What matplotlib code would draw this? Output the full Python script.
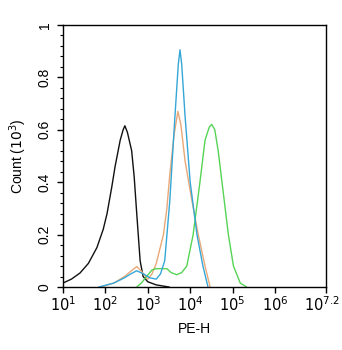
import matplotlib
matplotlib.use("Agg")
import matplotlib.pyplot as plt
import matplotlib.transforms as mtransforms
import numpy as np
from matplotlib.ticker import FixedLocator, MultipleLocator, LogLocator, NullFormatter

plt.rcParams['font.family'] = ['Liberation Sans', 'DejaVu Sans']

# exponents (log10 of PE-H) and counts (x10^3)
black_exp = [1.0, 1.2, 1.4, 1.6, 1.8, 1.95, 2.04, 2.15, 2.23, 2.35, 2.42, 2.46, 2.52, 2.62, 2.68, 2.74, 2.82, 2.89, 3.0, 3.2, 3.5]
black_cnt = [0.015, 0.03, 0.053, 0.09, 0.15, 0.22, 0.28, 0.38, 0.46, 0.56, 0.6, 0.615, 0.59, 0.52, 0.42, 0.28, 0.10, 0.04, 0.02, 0.008, 0.0]

orange_exp = [1.9, 2.2, 2.45, 2.6, 2.74, 2.85, 3.0, 3.1, 3.2, 3.37, 3.45, 3.52, 3.62, 3.71, 3.78, 3.88, 4.04, 4.19, 4.35, 4.47]
orange_cnt = [0.0, 0.015, 0.04, 0.06, 0.078, 0.06, 0.03, 0.05, 0.09, 0.2, 0.3, 0.43, 0.58, 0.67, 0.62, 0.48, 0.33, 0.2, 0.08, 0.0]

blue_exp = [1.85, 2.2, 2.45, 2.6, 2.74, 2.9, 3.05, 3.2, 3.3, 3.4, 3.52, 3.64, 3.72, 3.76, 3.8, 3.88, 4.0, 4.16, 4.3, 4.42]
blue_cnt = [0.0, 0.015, 0.035, 0.05, 0.062, 0.05, 0.035, 0.03, 0.05, 0.1, 0.33, 0.65, 0.85, 0.905, 0.85, 0.65, 0.4, 0.2, 0.08, 0.0]

green_exp = [2.74, 2.85, 2.97, 3.1, 3.2, 3.45, 3.55, 3.68, 3.8, 3.92, 4.07, 4.23, 4.35, 4.45, 4.51, 4.58, 4.66, 4.78, 4.9, 5.02, 5.18, 5.33]
green_cnt = [0.0, 0.015, 0.04, 0.065, 0.07, 0.07, 0.055, 0.047, 0.055, 0.08, 0.2, 0.40, 0.56, 0.61, 0.62, 0.6, 0.52, 0.36, 0.2, 0.08, 0.015, 0.0]

xtick_exp = [1, 2, 3, 4, 5, 6, 7.2]
xtick_labels = ['$10^{1}$', '$10^{2}$', '$10^{3}$', '$10^{4}$', '$10^{5}$', '$10^{6}$', '$10^{7.2}$']
ytick_vals = [0, 0.2, 0.4, 0.6, 0.8, 1]
ytick_labels = ['0', '0.2', '0.4', '0.6', '0.8', '1']

fig = plt.figure(figsize=(3.42, 3.5), dpi=100)
ax = fig.add_axes([0.184, 0.18, 0.769, 0.749])

series = [(black_exp, black_cnt, '#111111'),
          (orange_exp, orange_cnt, '#E9A877'),
          (green_exp, green_cnt, '#55D455'),
          (blue_exp, blue_cnt, '#35A7D6')]
for ex, cn, col in series:
    ax.plot(10 ** np.array(ex), cn, color=col, lw=1.0)

ax.set_xscale('log')
ax.set_xlim(10 ** 1, 10 ** 7.2)
ax.set_ylim(0, 1)
ax.xaxis.set_major_locator(FixedLocator([10 ** e for e in xtick_exp]))
ax.set_xticklabels(xtick_labels, fontsize=10.5)
ax.xaxis.set_minor_locator(LogLocator(base=10, subs=np.arange(2, 10)))
ax.xaxis.set_minor_formatter(NullFormatter())
ax.set_yticks(ytick_vals)
ax.set_yticklabels(ytick_labels, fontsize=10, rotation=90, va='center')
ax.yaxis.set_minor_locator(MultipleLocator(0.04))

ax.tick_params(axis='both', which='major', direction='out', length=4, width=1, colors='black')
ax.tick_params(axis='both', which='minor', direction='out', length=2, width=0.8)
ax.tick_params(axis='x', which='major', pad=2)
ax.tick_params(axis='y', which='major', pad=4)
for s in ax.spines.values():
    s.set_linewidth(1.0)

# nudge the last x tick label so it stays inside the figure
last = ax.get_xticklabels()[-1]
last.set_transform(last.get_transform() + mtransforms.ScaledTranslation(-4 / 100, 0, fig.dpi_scale_trans))

ax.set_xlabel('PE-H', fontsize=10, labelpad=6)
ax.set_ylabel('Count ($10^3$)', fontsize=10, labelpad=6)

fig.savefig('out.png', dpi=100)
